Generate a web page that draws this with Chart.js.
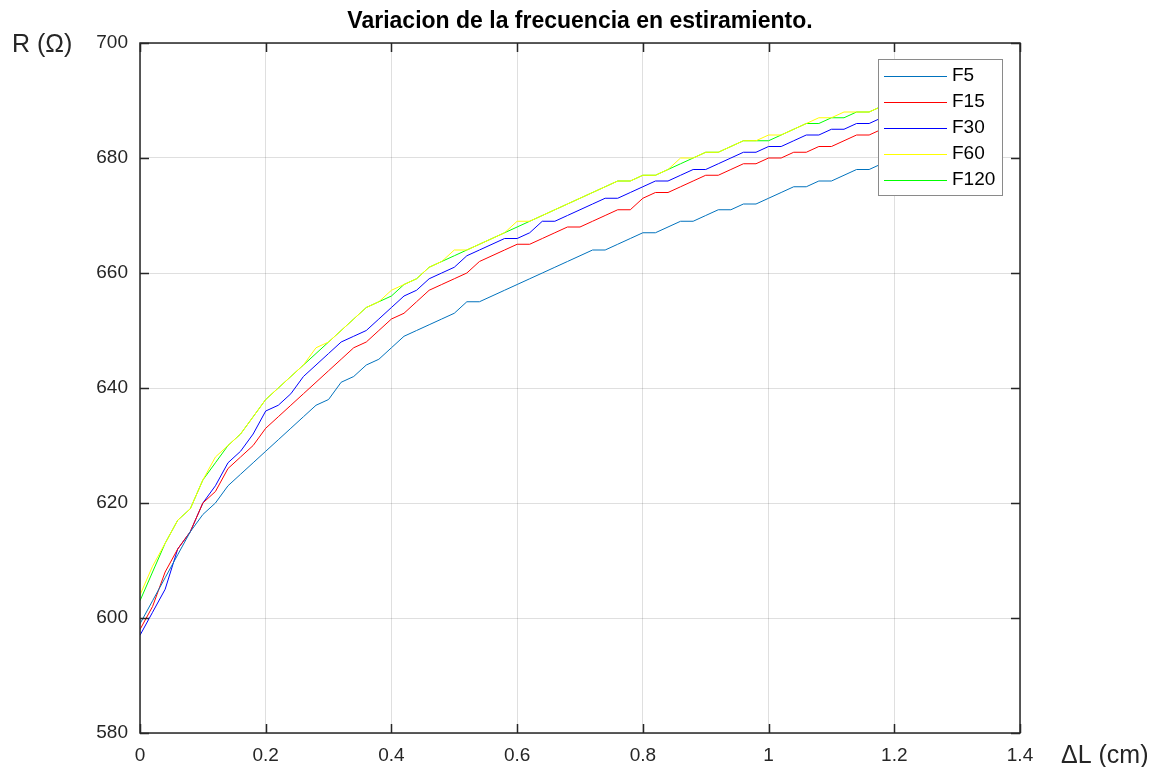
<!DOCTYPE html>
<html>
<head>
<meta charset="utf-8">
<script src="https://cdn.jsdelivr.net/npm/chart.js@4/dist/chart.umd.min.js"></script>
<style>
  body { margin: 0; background: #fff; }
  #wrap { width: 1150px; height: 767px; position: relative; }
</style>
</head>
<body>
<div id="wrap"><canvas id="plot"></canvas></div>
<script>
// elongation (cm) and measured resistance (ohm) for each frequency
const dL = [0, 0.02, 0.04, 0.06, 0.08, 0.10, 0.12, 0.14, 0.16, 0.18,
            0.20, 0.22, 0.24, 0.26, 0.28, 0.30, 0.32, 0.34, 0.36, 0.38,
            0.40, 0.42, 0.44, 0.46, 0.48, 0.50, 0.52, 0.54, 0.56, 0.58,
            0.60, 0.62, 0.64, 0.66, 0.68, 0.70, 0.72, 0.74, 0.76, 0.78,
            0.80, 0.82, 0.84, 0.86, 0.88, 0.90, 0.92, 0.94, 0.96, 0.98,
            1.00, 1.02, 1.04, 1.06, 1.08, 1.10, 1.12, 1.14, 1.16, 1.18];

const F5 = [599,603,607,611,615,618,620,623,625,627, 629,631,633,635,637,638,641,642,644,645,
            647,649,650,651,652,653,655,655,656,657, 658,659,660,661,662,663,664,664,665,666,
            667,667,668,669,669,670,671,671,672,672, 673,674,675,675,676,676,677,678,678,679];
const F15 = [598,602,608,612,615,620,622,626,628,630, 633,635,637,639,641,643,645,647,648,650,
             652,653,655,657,658,659,660,662,663,664, 665,665,666,667,668,668,669,670,671,671,
             673,674,674,675,676,677,677,678,679,679, 680,680,681,681,682,682,683,684,684,685];
const F30 = [597,601,605,612,615,620,623,627,629,632, 636,637,639,642,644,646,648,649,650,652,
             654,656,657,659,660,661,663,664,665,666, 666,667,669,669,670,671,672,673,673,674,
             675,676,676,677,678,678,679,680,681,681, 682,682,683,684,684,685,685,686,686,687];
const F60 = [604,609,613,617,619,624,628,630,632,635, 638,640,642,644,647,648,650,652,654,655,
             657,658,659,661,662,664,664,665,666,667, 669,669,670,671,672,673,674,675,676,676,
             677,677,678,680,680,681,681,682,683,683, 684,684,685,686,687,687,688,688,688,689];
const F120 = [603,608,613,617,619,624,627,630,632,635, 638,640,642,644,646,648,650,652,654,655,
              656,658,659,661,662,663,664,665,666,667, 668,669,670,671,672,673,674,675,676,676,
              677,677,678,679,680,681,681,682,683,683, 683,684,685,686,686,687,687,688,688,689];

const seriesNames = ['F5', 'F15', 'F30', 'F60', 'F120'];
const seriesValues = [F5, F15, F30, F60, F120];
const seriesColors = ['#0072BD', '#FF0000', '#0000FF', '#FFFF00', '#00FF00'];

const xTicks = [0, 0.2, 0.4, 0.6, 0.8, 1, 1.2, 1.4];
const yTicks = [580, 600, 620, 640, 660, 680, 700];

const FONT = '"Liberation Sans", Arial, Helvetica, sans-serif';
const AXIS = '#262626';

// box, inward ticks, titles and legend drawn on top of the plot
const decor = {
  id: 'decor',
  afterDraw(chart) {
    const { ctx, chartArea: a, scales } = chart;
    ctx.save();
    ctx.strokeStyle = AXIS;
    ctx.lineWidth = 1.5;
    ctx.strokeRect(a.left, a.top, a.right - a.left, a.bottom - a.top);

    const tl = 9;
    ctx.beginPath();
    xTicks.forEach(v => {
      const px = Math.round(scales.x.getPixelForValue(v)) + 0.5;
      ctx.moveTo(px, a.bottom); ctx.lineTo(px, a.bottom - tl);
      ctx.moveTo(px, a.top); ctx.lineTo(px, a.top + tl);
    });
    yTicks.forEach(v => {
      const py = Math.round(scales.y.getPixelForValue(v)) + 0.5;
      ctx.moveTo(a.left, py); ctx.lineTo(a.left + tl, py);
      ctx.moveTo(a.right, py); ctx.lineTo(a.right - tl, py);
    });
    ctx.stroke();

    // title and axis labels
    ctx.fillStyle = '#000';
    ctx.textBaseline = 'middle';
    ctx.textAlign = 'center';
    ctx.font = 'bold 23px ' + FONT;
    ctx.fillText('Variacion de la frecuencia en estiramiento.', (a.left + a.right) / 2, 22);
    ctx.font = '25px ' + FONT;
    ctx.fillStyle = '#262626';
    ctx.textAlign = 'left';
    ctx.fillText('R (\u03A9)', 12, 45);
    ctx.fillText('\u0394L (cm)', 1061, 756);

    // legend
    const lx = 878, ly = 59, lw = 124, lh = 136;
    ctx.fillStyle = '#fff';
    ctx.fillRect(lx, ly, lw, lh);
    ctx.strokeStyle = '#8a8a8a';
    ctx.lineWidth = 1;
    ctx.strokeRect(lx + 0.5, ly + 0.5, lw, lh);
    ctx.font = '19px ' + FONT;
    ctx.textAlign = 'left';
    chart.data.datasets.forEach((ds, i) => {
      const y = ly + 17 + i * 26;
      ctx.strokeStyle = ds.borderColor;
      ctx.beginPath();
      ctx.moveTo(lx + 6, y + 0.5);
      ctx.lineTo(lx + 69, y + 0.5);
      ctx.stroke();
      ctx.fillStyle = '#000';
      ctx.fillText(ds.label, lx + 74, y);
    });
    ctx.restore();
  }
};

new Chart(document.getElementById('plot'), {
  type: 'line',
  data: {
    labels: dL,
    datasets: seriesNames.map((name, i) => ({
      label: name,
      data: dL.map((x, j) => ({ x: x, y: seriesValues[i][j] })),
      borderColor: seriesColors[i],
      borderWidth: 1,
      pointRadius: 0,
      tension: 0,
      fill: false
    }))
  },
  options: {
    responsive: true,
    maintainAspectRatio: false,
    animation: false,
    layout: { padding: { top: 43, right: 130, left: 0, bottom: 0 } },
    plugins: { legend: { display: false }, tooltip: { enabled: false } },
    scales: {
      x: {
        type: 'linear',
        min: 0,
        max: 1.4,
        afterBuildTicks: s => { s.ticks = xTicks.map(v => ({ value: v })); },
        afterFit: s => { s.height = 34; },
        grid: { color: 'rgba(38,38,38,0.15)', drawTicks: false },
        border: { display: false },
        ticks: {
          padding: 11,
          color: '#262626',
          font: { family: FONT, size: 19 },
          maxRotation: 0,
          callback: v => String(+v.toFixed(1))
        }
      },
      y: {
        min: 580,
        max: 700,
        afterBuildTicks: s => { s.ticks = yTicks.map(v => ({ value: v })); },
        afterFit: s => { s.width = 140; },
        grid: { color: 'rgba(38,38,38,0.15)', drawTicks: false },
        border: { display: false },
        ticks: {
          padding: 12,
          color: '#262626',
          font: { family: FONT, size: 19 }
        }
      }
    }
  },
  plugins: [decor]
});
</script>
</body>
</html>
